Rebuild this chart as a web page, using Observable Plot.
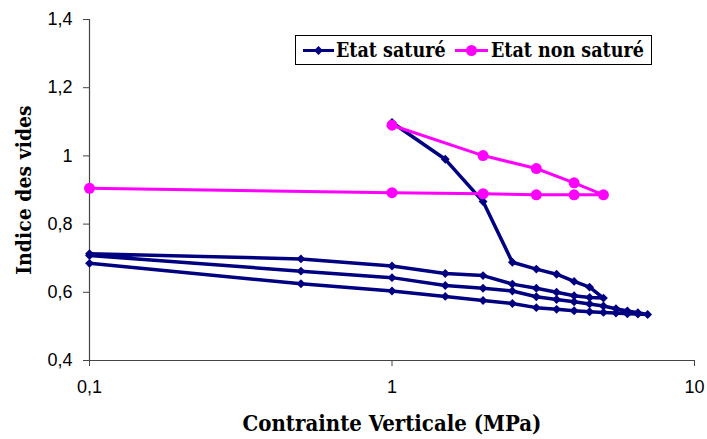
<!DOCTYPE html>
<html><head><meta charset="utf-8">
<script src="https://cdn.jsdelivr.net/npm/d3@7"></script>
<script src="https://cdn.jsdelivr.net/npm/@observablehq/plot@0.6"></script>
<style>
body{margin:0;background:#fff}
#wrap{position:relative;width:707px;height:439px;background:#fff}
</style>
</head><body><div id="wrap"></div>
<script>
// Saturated state: loading 1→5, unloading 5→0.1, reloading 0.1→7, unloading 7→0.1
const satX = [1,1.5,2,2.5,3,3.5,4,4.5,5,
              4.5,4,3.5,3,2.5,2,1.5,1,0.5,0.1,
              0.1,0.5,1,1.5,2,2.5,3,3.5,4,4.5,5,5.5,6,6.5,7,
              6.5,6,5.5,5,4.5,4,3.5,3,2.5,2,1.5,1,0.5,0.1];
const satY = [1.098,0.99,0.866,0.688,0.668,0.653,0.632,0.615,0.583,
              0.585,0.59,0.60,0.612,0.624,0.649,0.655,0.677,0.698,0.713,
              0.708,0.662,0.643,0.62,0.612,0.604,0.587,0.579,0.572,0.566,0.56,0.552,0.545,0.54,0.535,
              0.536,0.537,0.539,0.541,0.543,0.546,0.55,0.555,0.567,0.576,0.588,0.604,0.625,0.685];
// Unsaturated state
const unsatX = [1,2,3,4,5,4,3,2,1,0.1];
const unsatY = [1.09,1.001,0.963,0.921,0.886,0.886,0.886,0.889,0.892,0.905];

const xTicks = [0.1,1,10];
const yTicks = [0.4,0.6,0.8,1,1.2,1.4];
const xTitle = "Contrainte Verticale (MPa)";
const yTitle = "Indice des vides";
const seriesNames = ["Etat saturé","Etat non saturé"];
const colors = ["#000080","#ff00ff"];

const sat = satX.map((x,i)=>({x, y:satY[i]}));
const unsat = unsatX.map((x,i)=>({x, y:unsatY[i]}));
const fmt = d => String(d).replace(".", ",");
const serif = "DejaVu Serif Condensed";

const chart = Plot.plot({
  width:707, height:439,
  marginLeft:89, marginRight:13, marginTop:19, marginBottom:79,
  x:{type:"log", domain:[0.1,10]},
  y:{domain:[0.4,1.4]},
  style:{fontFamily:"'Liberation Sans', Arial, sans-serif", background:"white", color:"black"},
  marks:[
    Plot.ruleX([0.1], {stroke:"#444", strokeWidth:1.2}),
    Plot.ruleY([0.4], {stroke:"#444", strokeWidth:1.2}),
    Plot.axisX({ticks:xTicks, tickFormat:fmt, tickSize:6, tickPadding:14, fontSize:18, label:null, stroke:"#444", fill:"black"}),
    Plot.axisY({ticks:yTicks, tickFormat:fmt, tickSize:6, tickPadding:11, fontSize:18, label:null, stroke:"#444", fill:"black"}),
    Plot.line(sat, {x:"x", y:"y", stroke:colors[0], strokeWidth:3.5}),
    Plot.dot(sat, {x:"x", y:"y", symbol:"diamond2", r:4, fill:colors[0]}),
    Plot.line(unsat, {x:"x", y:"y", stroke:colors[1], strokeWidth:3}),
    Plot.dot(unsat, {x:"x", y:"y", r:5.5, fill:colors[1]}),
    Plot.text([xTitle], {text:d=>d, frameAnchor:"bottom", dy:63, textAnchor:"middle", lineAnchor:"middle", fontSize:22, fontWeight:"bold", fontFamily:serif, fill:"black"}),
    Plot.text([yTitle], {text:d=>d, frameAnchor:"left", dx:-65, rotate:-90, textAnchor:"middle", lineAnchor:"middle", fontSize:21, fontWeight:"bold", fontFamily:serif, fill:"black"})
  ]
});
const wrap = document.getElementById("wrap");
wrap.appendChild(chart);

// Legend box
const leg = document.createElement("div");
leg.style.cssText = "position:absolute;left:295px;top:35px;width:355px;height:28px;border:1px solid #000;background:#fff;";
leg.innerHTML = `<svg width="355" height="28" style="display:block">
<line x1="7" x2="38" y1="14.5" y2="14.5" stroke="${colors[0]}" stroke-width="3"/>
<path d="M22.5,10 L27,14.5 L22.5,19 L18,14.5Z" fill="${colors[0]}"/>
<text x="40" y="21" font-family="${serif}" font-weight="bold" font-size="19.5">${seriesNames[0]}</text>
<line x1="159" x2="192" y1="14.5" y2="14.5" stroke="${colors[1]}" stroke-width="3"/>
<circle cx="175.5" cy="14.5" r="5.5" fill="${colors[1]}"/>
<text x="195" y="21" font-family="${serif}" font-weight="bold" font-size="19.5">${seriesNames[1]}</text>
</svg>`;
wrap.appendChild(leg);
</script>
</body></html>
